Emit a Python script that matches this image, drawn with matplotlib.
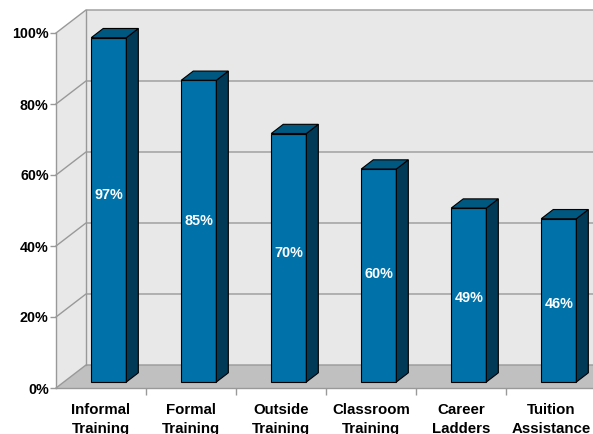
import matplotlib
matplotlib.use("Agg")
import matplotlib.pyplot as plt
from matplotlib.patches import Polygon

categories = ["Informal\nTraining", "Formal\nTraining", "Outside\nTraining",
              "Classroom\nTraining", "Career\nLadders", "Tuition\nAssistance"]
values = [97, 85, 70, 60, 49, 46]
yticks = [0, 20, 40, 60, 80, 100]

# 3-D look: offset of the back plane in data units (x in categories, y in %)
DX, DY = 0.333, 6.48
BAR_W = 0.39
D_FRONT, D_BACK = 0.26, 0.66

FRONT = "#0071a9"
SIDE = "#003a57"
TOP = "#00577f"
WALL = "#e8e8e8"
FLOOR = "#c0c0c0"
GRID = "#999999"

plt.rcParams["font.family"] = ["Liberation Sans", "DejaVu Sans"]
plt.rcParams["font.weight"] = "bold"

fig = plt.figure(figsize=(5.93, 4.34), dpi=100)
ax = fig.add_axes([56 / 593, 46 / 434, 540 / 593, 355 / 434])
ax.set_xlim(-0.5, 5.5)
ax.set_ylim(0, 100)
ax.patch.set_visible(False)

x0 = -0.5
x1 = 6.2


def poly(pts, fc, ec="none", lw=0.8, z=1):
    p = Polygon(pts, closed=True, facecolor=fc, edgecolor=ec, linewidth=lw,
                zorder=z, clip_on=False)
    ax.add_patch(p)


# walls and floor
poly([(x0, 0), (x0, 100), (x0 + DX, 100 + DY), (x0 + DX, DY)], WALL, z=0.5)
poly([(x0 + DX, DY), (x0 + DX, 100 + DY), (x1, 100 + DY), (x1, DY)], WALL, z=0.5)
poly([(x0, 0), (x1, 0), (x1, DY), (x0 + DX, DY)], FLOOR, z=0.6)

# gridlines running over the side wall and the back wall
for t in yticks:
    ax.plot([x0, x0 + DX, x1], [t, t + DY, t + DY], color=GRID, lw=1.0,
            zorder=0.8, clip_on=False)
ax.plot([x0 + DX, x0 + DX], [DY, 100 + DY], color=GRID, lw=1.0, zorder=0.8,
        clip_on=False)
ax.plot([x0, x0], [0, 100], color=GRID, lw=1.0, zorder=0.8, clip_on=False)
ax.plot([x0, x1], [0, 0], color=GRID, lw=1.0, zorder=0.8, clip_on=False)

# bars
for i, v in enumerate(values):
    fx = i - BAR_W / 2 + D_FRONT * DX
    fy = D_FRONT * DY
    bdx = (D_BACK - D_FRONT) * DX
    bdy = (D_BACK - D_FRONT) * DY
    # front face
    poly([(fx, fy), (fx + BAR_W, fy), (fx + BAR_W, fy + v), (fx, fy + v)],
         FRONT, "black", z=2)
    # right side
    poly([(fx + BAR_W, fy), (fx + BAR_W + bdx, fy + bdy),
          (fx + BAR_W + bdx, fy + v + bdy), (fx + BAR_W, fy + v)],
         SIDE, "black", z=2)
    # top
    poly([(fx, fy + v), (fx + BAR_W, fy + v), (fx + BAR_W + bdx, fy + v + bdy),
          (fx + bdx, fy + v + bdy)], TOP, "black", z=2)
    ax.text(fx + BAR_W / 2, fy + 0.6 * v - 5.6, f"{v}%", color="white",
            fontsize=10.4, fontweight="bold", ha="center", va="center", zorder=3)

for s in ax.spines.values():
    s.set_visible(False)

ax.set_yticks(yticks)
ax.set_yticklabels([f"{t}%" for t in yticks], fontsize=10.3, fontweight="bold")
ax.tick_params(axis="y", length=4.3, width=1.0, color=GRID, pad=1)

ax.set_xticks(range(len(categories)))
ax.set_xticklabels(categories, fontsize=10.8, fontweight="bold", linespacing=1.45)
ax.set_xticks([i + 0.5 for i in range(len(categories) - 1)], minor=True)
ax.tick_params(axis="x", which="major", length=0, pad=10.5)
ax.tick_params(axis="x", which="minor", length=5, width=1.0, color=GRID)

fig.savefig("out.png", dpi=100)
